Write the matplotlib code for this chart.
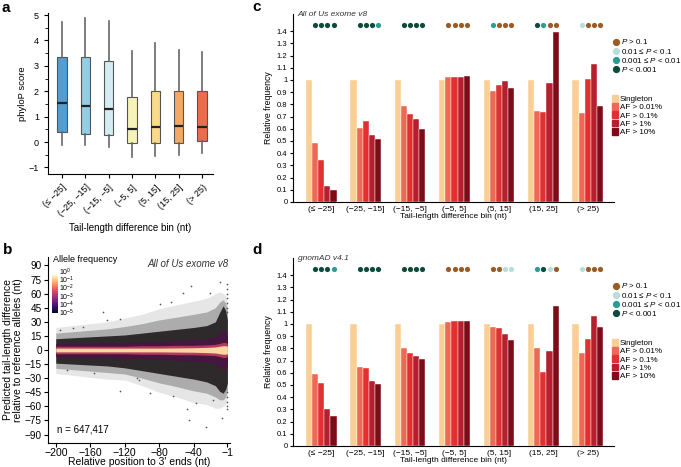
import numpy as np
import matplotlib.pyplot as plt
from matplotlib.lines import Line2D
from matplotlib.patches import Patch
from matplotlib.ticker import MultipleLocator, FormatStrFormatter

plt.rcParams['font.family'] = ['Liberation Sans', 'DejaVu Sans']
plt.rcParams['mathtext.fontset'] = 'custom'
plt.rcParams['mathtext.rm'] = 'Liberation Sans'
plt.rcParams['mathtext.it'] = 'Liberation Sans:italic'
plt.rcParams['axes.linewidth'] = 0.8
plt.rcParams['xtick.major.width'] = 0.8
plt.rcParams['ytick.major.width'] = 0.8

bins = ['(≤ −25]', '(−25, −15]', '(−15, −5]', '(−5, 5]', '(5, 15]', '(15, 25]', '(> 25)']

# panel a: phyloP box stats per tail-length bin
phylop_whislo = [-0.10, -0.13, -0.18, -0.60, -0.57, -0.50, -0.42]
phylop_q1 = [0.40, 0.33, 0.28, -0.05, -0.03, -0.03, 0.02]
phylop_med = [1.53, 1.42, 1.30, 0.52, 0.60, 0.62, 0.60]
phylop_q3 = [3.35, 3.33, 3.18, 1.77, 2.02, 2.00, 2.00]
phylop_whishi = [4.72, 4.90, 4.78, 3.57, 3.90, 3.63, 3.55]
box_colors = ['#4f9fd4', '#93cde3', '#d3ecf2', '#f5f3b8', '#f9d98a', '#f4a862', '#ee6b4b']

# panel b: envelopes of the scatter cloud (nt)
env_x = [-200, -180, -160, -140, -120, -100, -80, -60, -40, -25, -15, -10, -6, -3, -1]
sparse_hi = [24, 26, 28, 30, 34, 38, 44, 48, 52, 55, 60, 62, 60, 58, 50]
sparse_lo = [-25, -27, -29, -31, -32, -38, -45, -50, -56, -58, -62, -62, -60, -58, -50]
dense_hi = [12, 13, 14, 15, 16, 18, 20, 22, 24, 26, 30, 40, 47, 42, 32]
dense_lo = [-14, -15, -16, -17, -19, -22, -25, -28, -31, -34, -38, -44, -46, -42, -35]
purple_hi = [7, 7, 7, 8, 8, 9, 9, 10, 11, 12, 14, 18, 22, 20, 15]
purple_lo = [-7, -7, -8, -8, -9, -9, -10, -11, -12, -13, -15, -18, -22, -20, -16]
pink_hi = [4, 4, 4, 4, 4, 4.5, 4.5, 5, 5, 5.5, 6, 7, 8, 8, 7]
pink_lo = [-4, -4, -4, -4, -4, -4.5, -4.5, -5, -5, -5.5, -6, -7, -8, -8, -7]
core_hi = [2, 2, 2, 2, 2, 2, 2, 2.2, 2.4, 2.8, 3.2, 4, 4.5, 4.5, 4]
core_lo = [-2, -2, -2, -2, -2, -2, -2, -2.2, -2.4, -2.8, -3.2, -4, -4.5, -4.5, -4]
outlier_x = [-145, -126, -43, -52, -21, -10, -66, -79, -195, -180, -168, -141,
             -106, -104, -126, -48, -46, -26, -7, -2, -18, -64, -91, -37, -187, -156,
             -1, -1, -1, -1, -1, -1, -1, -1, -1, -1, -1]
outlier_y = [40, 33, 68, 61, 61, 72, 51, 49, 21, 23, 25, 32,
             -30, -32, -44, -63, -75, -82, -72, -63, -53, -49, -46, -56, -21, -25,
             40, 45, 50, 55, 60, 65, 70, -45, -50, -55, -60]
n_variants = 647417
cb_labels = ['$10^{0}$', '$10^{-1}$', '$10^{-2}$', '$10^{-3}$', '$10^{-4}$', '$10^{-5}$']

# panels c, d: relative frequency per AF class (rows) and bin (cols)
af_labels = ['Singleton', 'AF > 0.01%', 'AF > 0.1%', 'AF > 1%', 'AF > 10%']
af_colors = ['#fbcf94', '#ec6a55', '#e0302f', '#b51f2e', '#7c0c18']
aou_freq = [
    [1, 1, 1, 1, 1, 1, 1],
    [0.48, 0.61, 0.79, 1.02, 0.91, 0.745, 0.73],
    [0.345, 0.66, 0.72, 1.02, 0.96, 0.735, 1.01],
    [0.135, 0.55, 0.68, 1.02, 0.99, 0.975, 1.13],
    [0.10, 0.52, 0.60, 1.03, 0.935, 1.39, 0.79],
]
gnomad_freq = [
    [1, 1, 1, 1, 1, 1, 1],
    [0.59, 0.645, 0.805, 1.015, 0.975, 0.80, 0.76],
    [0.52, 0.635, 0.76, 1.02, 0.965, 0.61, 0.875],
    [0.30, 0.53, 0.74, 1.02, 0.92, 0.775, 1.065],
    [0.245, 0.51, 0.715, 1.02, 0.865, 1.15, 0.975],
]
# significance class of each non-singleton AF bar: 0 P>0.1, 1 0.01-0.1, 2 0.001-0.01, 3 <0.001
aou_sig = [[3, 3, 3, 3], [3, 3, 3, 2], [3, 3, 3, 3], [0, 0, 0, 0],
           [2, 0, 0, 0], [3, 2, 0, 0], [1, 0, 0, 0]]
gnomad_sig = [[3, 3, 3, 2], [3, 3, 3, 3], [3, 3, 3, 3], [0, 0, 0, 0],
              [0, 0, 1, 1], [2, 3, 1, 0], [1, 0, 0, 0]]
sig_labels = ['$P$ > 0.1', '0.01 ≤ $P$ < 0.1', '0.001 ≤ $P$ < 0.01', '$P$ < 0.001']
sig_colors = ['#9a5b24', '#b9dcdc', '#2a9d93', '#0c4a3b']

fig = plt.figure(figsize=(6.81, 4.67), dpi=100)
W, H = 681.0, 467.0


def px_axes(l, t, r, b):
    return fig.add_axes([l / W, 1 - b / H, (r - l) / W, (b - t) / H])


# ---- a: boxplot
ax = px_axes(48, 13, 213, 174)
stats = []
for i in range(len(bins)):
    stats.append(dict(whislo=phylop_whislo[i], q1=phylop_q1[i], med=phylop_med[i],
                      q3=phylop_q3[i], whishi=phylop_whishi[i], fliers=[]))
bp = ax.bxp(stats, positions=range(len(bins)), widths=0.4, patch_artist=True,
            showcaps=False, showfliers=False,
            boxprops=dict(edgecolor='#555555', linewidth=0.8),
            whiskerprops=dict(color='#666666', linewidth=1.2),
            medianprops=dict(color='#222222', linewidth=1.6))
for patch, c in zip(bp['boxes'], box_colors):
    patch.set_facecolor(c)
ax.set_xlim(-0.6, 6.47)
ax.set_ylim(-1.26, 5.08)
ax.set_yticks(range(-1, 6))
ax.yaxis.set_minor_locator(MultipleLocator(0.5))
ax.tick_params(axis='y', which='minor', length=2, width=0.6)
ax.tick_params(labelsize=6.5, length=3)
ax.set_xticks(range(len(bins)))
ax.set_xticklabels(bins, rotation=45, ha='right', rotation_mode='anchor')
ax.set_ylabel('phyloP score', fontsize=6.8, labelpad=1)
ax.set_xlabel('Tail-length difference bin (nt)', fontsize=7, labelpad=3)
for s in ['top', 'right']:
    ax.spines[s].set_visible(False)

# ---- b: tail-length difference vs position
ax = px_axes(48, 257, 230, 443)
ax.fill_between(env_x, sparse_lo, sparse_hi, color='#e6e6e6', lw=0)
ax.fill_between(env_x, [0.5 * (a + b) for a, b in zip(sparse_lo, dense_lo)],
                [0.5 * (a + b) for a, b in zip(sparse_hi, dense_hi)], color='#acacac', lw=0)
ax.fill_between(env_x, dense_lo, dense_hi, color='#2e2a2c', lw=0)
ax.fill_between(env_x, purple_lo, purple_hi, color='#45163f', lw=0)
ax.fill_between(env_x, pink_lo, pink_hi, color='#b53a5c', lw=0)
ax.fill_between(env_x, core_lo, core_hi, color='#fcd7a0', lw=0)
ax.scatter(outlier_x, outlier_y, s=1.5, color='#555555', lw=0)
ax.set_xlim(-209, 2)
ax.set_ylim(-99, 99)
ax.set_xticks([-200, -160, -120, -80, -40, -1])
ax.set_yticks(range(-90, 91, 15))
ax.tick_params(axis='x', labelsize=7.6, length=3, pad=0.8)
ax.tick_params(axis='y', labelsize=7.2, length=3, pad=1.5)
ax.set_xlabel('Relative position to 3′ ends (nt)', fontsize=7.5, labelpad=-1)
ax.set_ylabel('Predicted tail-length difference\nrelative to reference alleles (nt)',
              fontsize=7.5, labelpad=1, linespacing=1.0)
for s in ['top', 'right']:
    ax.spines[s].set_visible(False)
ax.text(0.99, 0.96, 'All of Us exome v8', transform=ax.transAxes, ha='right', va='center',
        fontsize=7, style='italic', color='#333333')
ax.text(0.05, 0.07, 'n = {:,}'.format(n_variants), transform=ax.transAxes, ha='left',
        va='center', fontsize=7)
ax.text(0.03, 0.985, 'Allele frequency', transform=ax.transAxes, ha='left', va='center',
        fontsize=6.5)
cax = px_axes(52, 275, 58, 313)
cax.imshow(np.linspace(1, 0, 100)[:, None], aspect='auto', cmap='magma',
           vmin=-0.05, vmax=1.0)
cax.set_xticks([])
cax.set_yticks([])
for s in cax.spines.values():
    s.set_visible(False)
fig.text(59 / W, 1 - 293 / H, '\n'.join(cb_labels), fontsize=5.0, va='center', ha='left',
         linespacing=0.66)


# ---- c, d: relative frequency bars
def freq_panel(ax, freq, sig, title):
    w = 0.138
    x = np.arange(len(bins))
    for k in range(len(af_labels)):
        ax.bar(x + (k - 2) * w, freq[k], width=w, color=af_colors[k],
               edgecolor='white', linewidth=0.3)
    for i in range(len(bins)):
        for k in range(4):
            ax.scatter(i + (k - 1) * w, 1.45, s=14, color=sig_colors[sig[i][k]],
                       lw=0, zorder=3)
    ax.set_xlim(-0.637, 6.59)
    ax.set_ylim(0, 1.54)
    ax.set_yticks(np.arange(0, 1.41, 0.1))
    ax.yaxis.set_major_formatter(FormatStrFormatter('%g'))
    ax.set_xticks(x)
    ax.set_xticklabels(bins)
    ax.tick_params(axis='x', length=0, labelsize=6, pad=3)
    ax.tick_params(axis='y', length=2.5, labelsize=5.5, pad=1.5)
    ax.set_ylabel('Relative frequency', fontsize=6.3, labelpad=3)
    ax.set_xlabel('Tail-length difference bin (nt)', fontsize=6, labelpad=0)
    for s in ['top', 'right']:
        ax.spines[s].set_visible(False)
    ax.text(0.015, 1.0, title, transform=ax.transAxes, ha='left', va='center',
            fontsize=6, style='italic', color='#333333')
    h1 = [Line2D([], [], marker='o', ls='', color=c, markersize=4.2) for c in sig_colors]
    leg = ax.legend(h1, sig_labels, loc='upper left', bbox_to_anchor=(0.993, 0.875),
                    frameon=False, fontsize=5.8, handletextpad=0.1, labelspacing=0.02,
                    handlelength=1.0, borderpad=0, borderaxespad=0)
    ax.add_artist(leg)
    h2 = [Patch(color=c) for c in af_colors]
    ax.legend(h2, af_labels, loc='upper left', bbox_to_anchor=(0.995, 0.57),
              frameon=False, fontsize=5.8, handletextpad=0.2, labelspacing=0.02,
              handlelength=0.7, handleheight=0.9, borderpad=0, borderaxespad=0)


ax = px_axes(293, 14, 614, 202)
freq_panel(ax, aou_freq, aou_sig, 'All of Us exome v8')
ax = px_axes(293, 258, 614, 446)
freq_panel(ax, gnomad_freq, gnomad_sig, 'gnomAD v4.1')

for lab, x, y in [('a', 2, 8), ('b', 3, 250), ('c', 252, 7), ('d', 252, 250)]:
    fig.text(x / W, 1 - y / H, lab, fontsize=11, fontweight='bold', va='center', ha='left')

fig.savefig('out.png', dpi=100)
